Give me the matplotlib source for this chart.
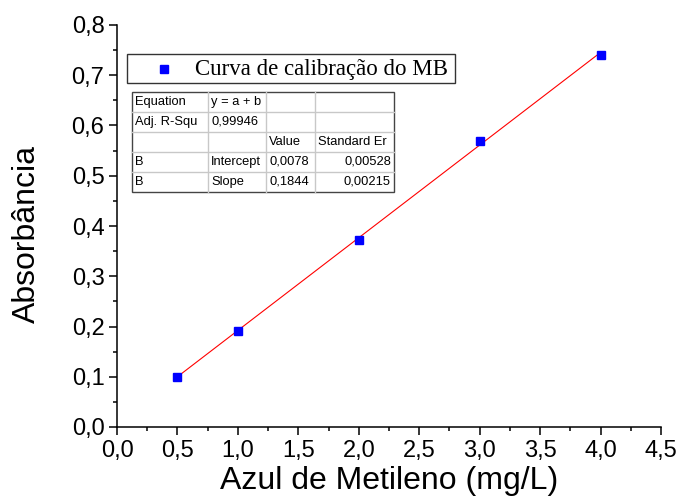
import matplotlib
matplotlib.use("Agg")
import matplotlib.pyplot as plt
from matplotlib.ticker import MultipleLocator, FuncFormatter
from matplotlib.patches import Rectangle

# dados da curva de calibração
conc = [0.5, 1.0, 2.0, 3.0, 4.0]
absorb = [0.100, 0.192, 0.373, 0.570, 0.741]
intercept = 0.0078
slope = 0.1844

table_rows = [
    ["Equation", "y = a + b", "", ""],
    ["Adj. R-Squ", "0,99946", "", ""],
    ["", "", "Value", "Standard Er"],
    ["B", "Intercept", "0,0078", "0,00528"],
    ["B", "Slope", "0,1844", "0,00215"],
]

W, H = 683, 497
SANS = ["Liberation Sans", "Arial", "DejaVu Sans"]
SERIF = ["Liberation Serif", "Times New Roman", "DejaVu Serif"]

plt.rcParams["font.family"] = SANS

fig = plt.figure(figsize=(W / 100, H / 100), dpi=100)
ax = fig.add_axes([117 / W, 1 - 427 / H, (661 - 117) / W, (427 - 25) / H])

fit_x = [conc[0], conc[-1]]
fit_y = [intercept + slope * v for v in fit_x]
ax.plot(fit_x, fit_y, color="red", lw=0.8, zorder=2)
ax.plot(conc, absorb, ls="none", marker="s", ms=6.3, color="#0000FF", zorder=3)

ax.set_xlim(0, 4.5)
ax.set_ylim(0, 0.8)
ax.xaxis.set_major_locator(MultipleLocator(0.5))
ax.xaxis.set_minor_locator(MultipleLocator(0.25))
ax.yaxis.set_major_locator(MultipleLocator(0.1))
ax.yaxis.set_minor_locator(MultipleLocator(0.05))
fmt = FuncFormatter(lambda v, p: f"{v:.1f}".replace(".", ","))
ax.xaxis.set_major_formatter(fmt)
ax.yaxis.set_major_formatter(fmt)

for s in ("top", "right"):
    ax.spines[s].set_visible(False)
for s in ("left", "bottom"):
    ax.spines[s].set_linewidth(1.1)
ax.tick_params(which="major", direction="out", length=6, width=1.1, labelsize=17, pad=3)
ax.tick_params(which="minor", direction="out", length=3, width=1.1)

ax.set_xlabel("Azul de Metileno (mg/L)", fontsize=23, labelpad=3)
ax.set_ylabel("Absorbância", fontsize=23)
ax.yaxis.set_label_coords(-75 / (661 - 117), 0.48)


def px(x, y):
    return x / W, 1 - y / H


# legenda
lx0, ly0, lx1, ly1 = 127, 54, 455, 83
fig.patches.append(Rectangle(px(lx0, ly1), (lx1 - lx0) / W, (ly1 - ly0) / H,
                             transform=fig.transFigure, fc="white", ec="#333333", lw=1.0))
fig.lines.append(plt.Line2D([164 / W], [1 - 68.5 / H], transform=fig.transFigure,
                            marker="s", ms=6.3, color="#0000FF", ls="none"))
fig.text(*px(195, 69), "Curva de calibração do MB", family=SERIF, fontsize=16.5,
         ha="left", va="center")

# tabela do ajuste
cols = [132, 208, 266, 315, 394]
row_top = 92
row_h = 20
nrows = len(table_rows)
for i in range(1, nrows):
    y = row_top + i * row_h
    fig.lines.append(plt.Line2D([cols[0] / W, cols[-1] / W], [1 - y / H] * 2,
                                transform=fig.transFigure, color="#C8C8C8", lw=1.0))
for c in cols[1:-1]:
    fig.lines.append(plt.Line2D([c / W] * 2, [1 - row_top / H, 1 - (row_top + nrows * row_h) / H],
                                transform=fig.transFigure, color="#C8C8C8", lw=1.0))
fig.patches.append(Rectangle(px(cols[0], row_top + nrows * row_h), (cols[-1] - cols[0]) / W,
                             nrows * row_h / H, transform=fig.transFigure,
                             fc="none", ec="#444444", lw=1.0))
for i, row in enumerate(table_rows):
    yc = row_top + i * row_h + row_h / 2
    for j, txt in enumerate(row):
        if not txt:
            continue
        if j == 3 and i > 2:
            fig.text(*px(cols[4] - 3, yc), txt, fontsize=9.3, ha="right", va="center")
        else:
            fig.text(*px(cols[j] + 3, yc), txt, fontsize=9.3, ha="left", va="center")

fig.savefig("out.png", dpi=100, facecolor="white")
